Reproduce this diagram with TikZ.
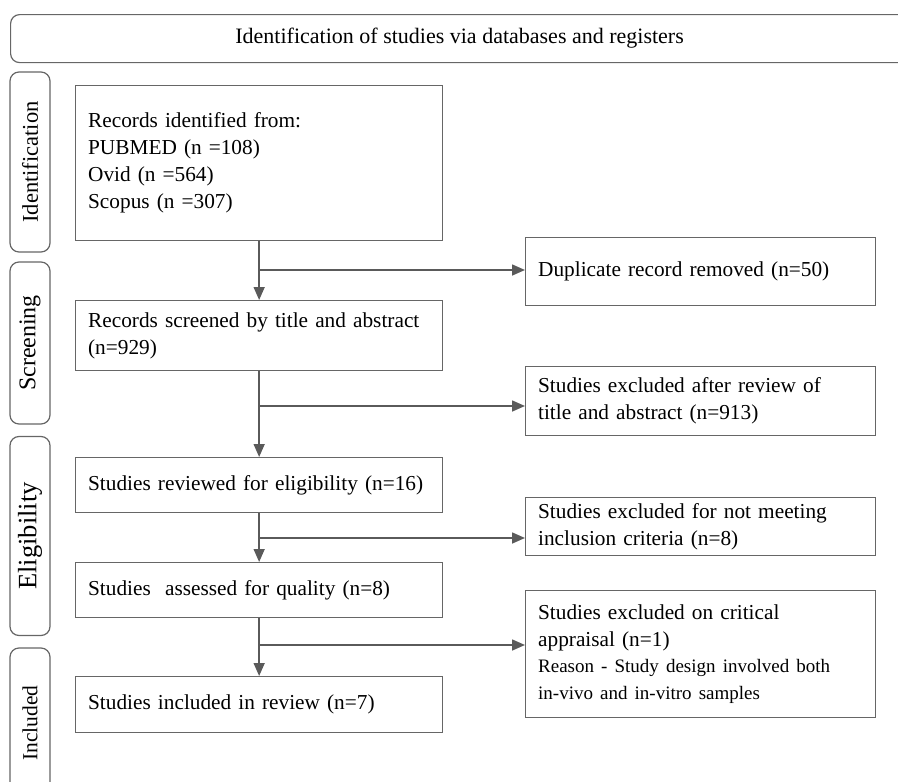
\documentclass[tikz,border=0pt]{standalone}
\usepackage{fontspec}
\setmainfont{Liberation Serif}
\usetikzlibrary{positioning, arrows.meta}
\definecolor{linegray}{HTML}{5A5A5A}
\definecolor{boxgray}{HTML}{666666}

\begin{document}
\begin{tikzpicture}[x=1pt, y=-1pt,
    stage/.style = {draw=boxgray, line width=1.3pt, anchor=north west, text width=342pt, inner xsep=12.5pt, align=left, font=\fontsize{21.3}{27}\selectfont},
    excl/.style = {stage, text width=325pt},
    phase/.style = {draw=boxgray, line width=1.2pt, rounded corners=9pt, rotate=90, minimum height=40pt, inner sep=0pt},
    head/.style = {draw=boxgray, line width=1.2pt, rounded corners=9pt, anchor=north west, minimum width=898pt, minimum height=48pt, font=\fontsize{22}{24}\selectfont},
    flow/.style = {draw=linegray, line width=1.6pt, -{Triangle[length=13pt, width=11pt]}}]
    \useasboundingbox (0,0) rectangle (898,782);

    % header and phases
    \node[head] (title) at (10,14) {Identification of studies via databases and registers};
    \node[phase, minimum width=180pt, font=\fontsize{22.5}{24}\selectfont] (idn) at (30,162) {Identification};
    \node[phase, minimum width=162pt, font=\fontsize{24}{24}\selectfont] (scrn) at (30,343) {Screening};
    \node[phase, minimum width=199pt, font=\fontsize{26.5}{28}\selectfont] (elig) at (30,536) {Eligibility};
    \node[phase, minimum width=150pt, font=\fontsize{21.5}{24}\selectfont] (incl) at (30,723) {Included};

    % main column
    \node[stage, minimum height=155pt] (rec) at (75,85) {Records identified from:\\PUBMED (n =108)\\Ovid (n =564)\\Scopus (n =307)};
    \node[stage, minimum height=70pt] (scr) at (75,300) {Records screened by title and abstract\\(n=929)};
    \node[stage, minimum height=55pt] (rev) at (75,457) {Studies reviewed for eligibility (n=16)};
    \node[stage, minimum height=55pt] (qual) at (75,562) {Studies\ \ assessed for quality (n=8)};
    \node[stage, minimum height=56pt] (inc) at (75,676) {Studies included in review (n=7)};

    % exclusions
    \node[excl, minimum height=68pt] (dup) at (525,237) {Duplicate record removed (n=50)};
    \node[excl, minimum height=69pt] (ex1) at (525,366) {Studies excluded after review of\\title and abstract (n=913)};
    \node[excl, minimum height=58pt] (ex2) at (525,497) {Studies excluded for not meeting\\inclusion criteria (n=8)};
    \node[excl, minimum height=127pt] (ex3) at (525,590) {Studies excluded on critical\\appraisal (n=1)\\{\fontsize{19}{26}\selectfont Reason - Study design involved both\\in-vivo and in-vitro samples}};

    \coordinate (b1) at (258.5,270);
    \coordinate (b2) at (258.5,406);
    \coordinate (b3) at (258.5,538);
    \coordinate (b4) at (258.5,645);

    \draw[flow] (rec) -- (scr);
    \draw[flow] (scr) -- (rev);
    \draw[flow] (rev) -- (qual);
    \draw[flow] (qual) -- (inc);

    \draw[flow] (b1) -- (b1 -| dup.west);
    \draw[flow] (b2) -- (b2 -| ex1.west);
    \draw[flow] (b3) -- (b3 -| ex2.west);
    \draw[flow] (b4) -- (b4 -| ex3.west);
\end{tikzpicture}
\end{document}
